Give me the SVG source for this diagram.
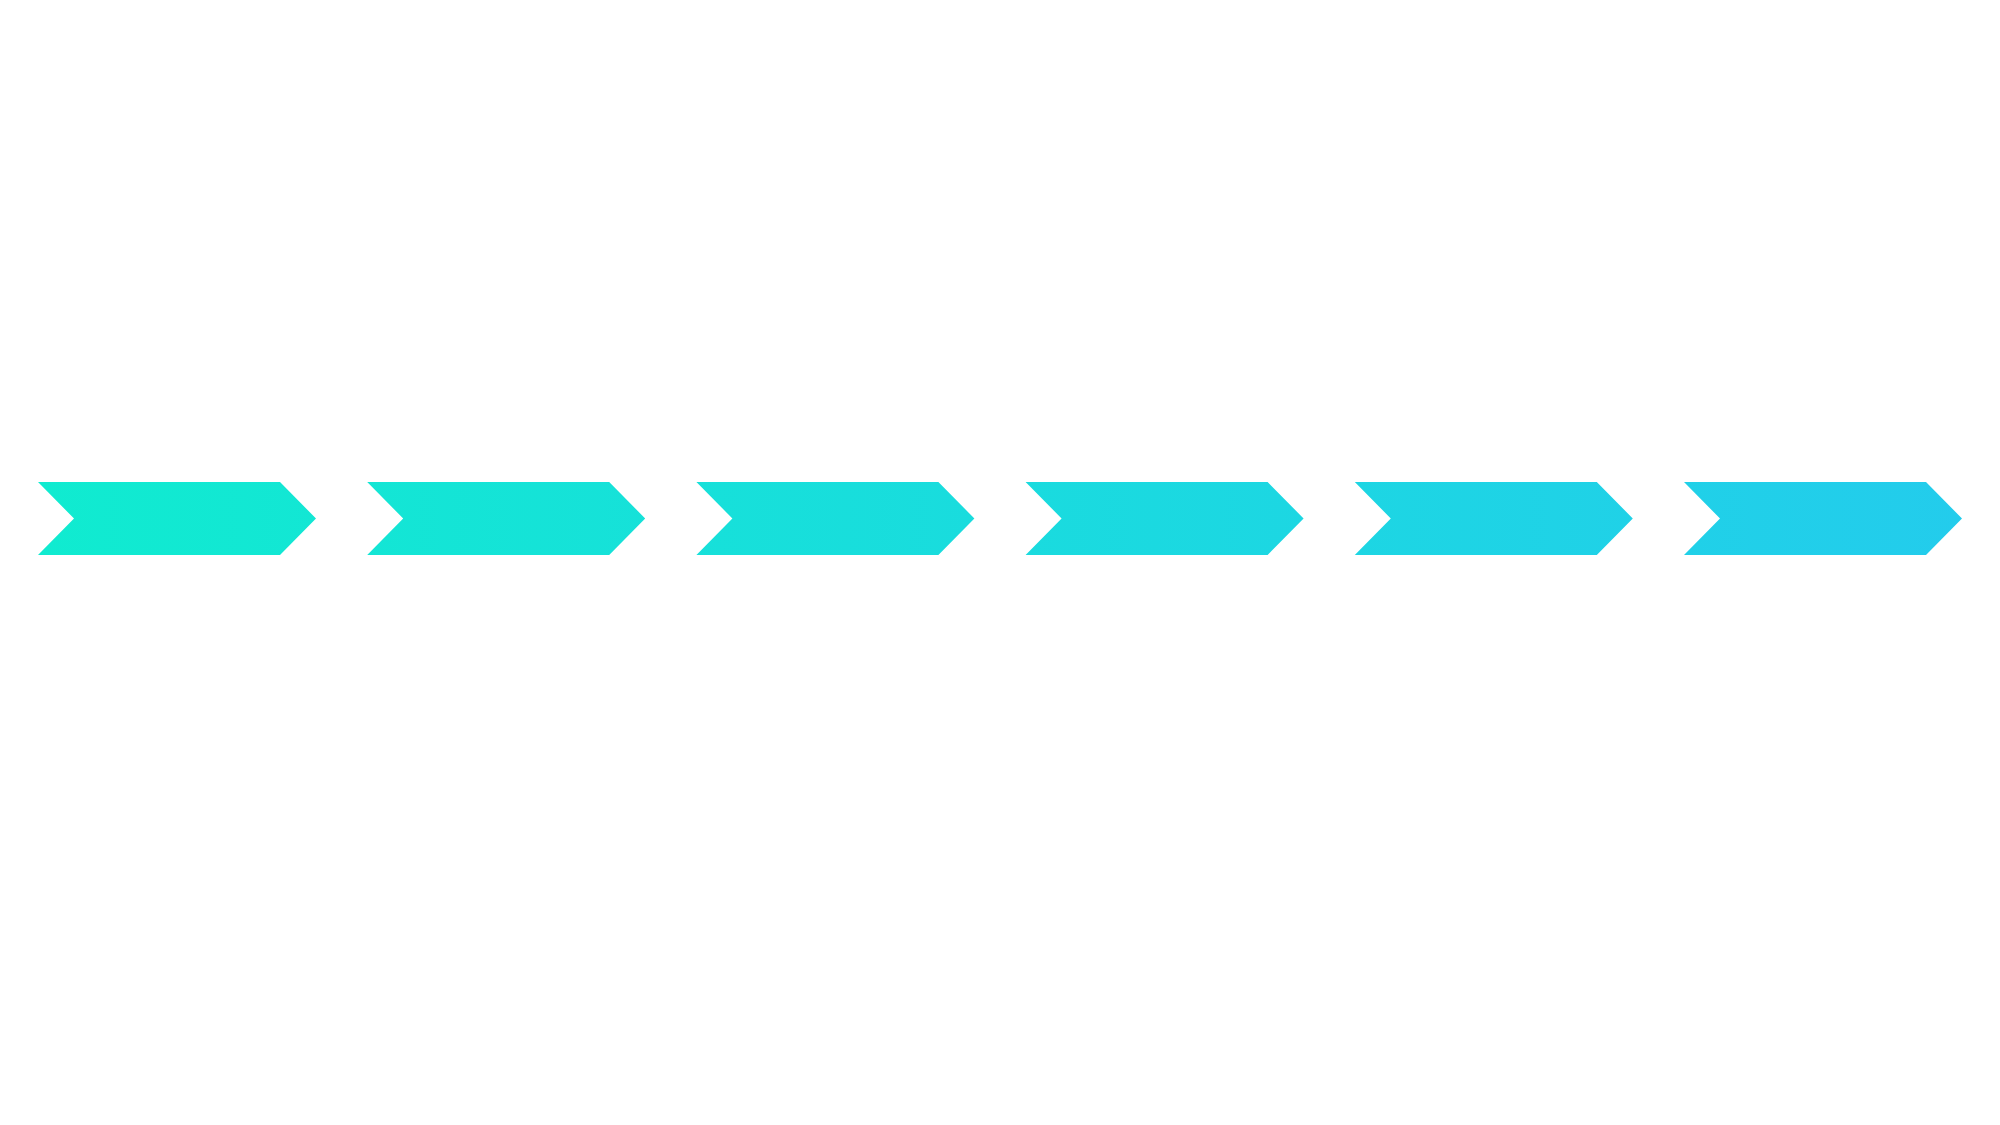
<svg xmlns="http://www.w3.org/2000/svg" width="2000" height="1125" viewBox="0 0 2000 1125">
  <defs>
    <linearGradient id="g" gradientUnits="userSpaceOnUse" x1="38" y1="0" x2="1962" y2="0">
      <stop offset="0" stop-color="#10EBD0"/>
      <stop offset="1" stop-color="#23CCEC"/>
    </linearGradient>
  </defs>
  <style>.c{fill:url(#g)}</style>
  <rect width="2000" height="1125" fill="#FFFFFF"/>
  <g id="node1"><path class="c" d="M38,482 H280 L316,518.5 L280,555 H38 L74,518.5 Z"/></g>
  <g id="node2"><path class="c" d="M367.2,482 H609.2 L645.2,518.5 L609.2,555 H367.2 L403.2,518.5 Z"/></g>
  <g id="node3"><path class="c" d="M696.4,482 H938.4 L974.4,518.5 L938.4,555 H696.4 L732.4,518.5 Z"/></g>
  <g id="node4"><path class="c" d="M1025.6,482 H1267.6 L1303.6,518.5 L1267.6,555 H1025.6 L1061.6,518.5 Z"/></g>
  <g id="node5"><path class="c" d="M1354.8,482 H1596.8 L1632.8,518.5 L1596.8,555 H1354.8 L1390.8,518.5 Z"/></g>
  <g id="node6"><path class="c" d="M1684,482 H1926 L1962,518.5 L1926,555 H1684 L1720,518.5 Z"/></g>
  <g id="connectors"></g>
</svg>
